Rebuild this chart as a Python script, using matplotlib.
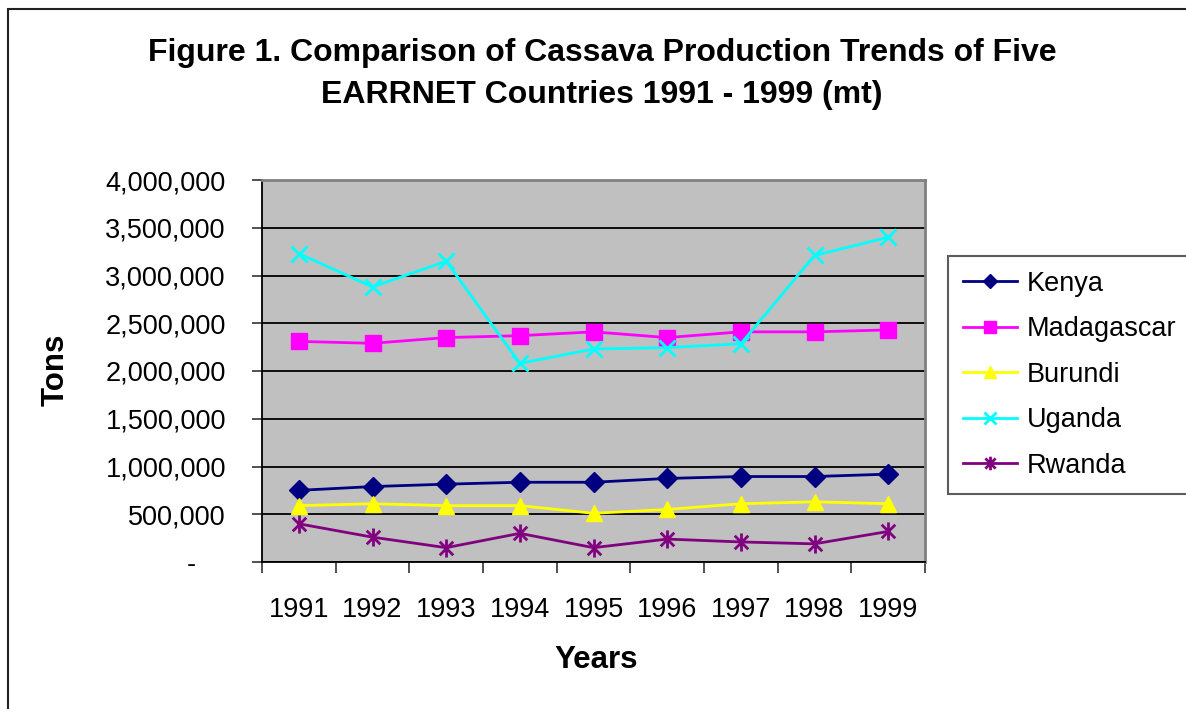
import matplotlib
matplotlib.use("Agg")
import matplotlib.pyplot as plt
from matplotlib.ticker import FuncFormatter, FixedLocator
from matplotlib.patches import Rectangle
from matplotlib.path import Path

years = ["1991", "1992", "1993", "1994", "1995", "1996", "1997", "1998", "1999"]
kenya = [750000, 790000, 815000, 835000, 835000, 875000, 895000, 895000, 920000]
madagascar = [2310000, 2290000, 2350000, 2370000, 2410000, 2350000, 2410000, 2410000, 2430000]
burundi = [590000, 610000, 590000, 590000, 510000, 550000, 610000, 630000, 610000]
uganda = [3230000, 2880000, 3150000, 2080000, 2230000, 2245000, 2285000, 3210000, 3400000]
rwanda = [400000, 260000, 150000, 300000, 150000, 240000, 210000, 190000, 320000]

star = Path([(0, -1), (0, 1), (-0.75, -0.75), (0.75, 0.75), (-0.75, 0.75), (0.75, -0.75)],
            [Path.MOVETO, Path.LINETO, Path.MOVETO, Path.LINETO, Path.MOVETO, Path.LINETO])

series = [
    ("Kenya", kenya, "#000080", "D", 10),
    ("Madagascar", madagascar, "#FF00FF", "s", 11),
    ("Burundi", burundi, "#FFFF00", "^", 12),
    ("Uganda", uganda, "#00FFFF", "x", 11),
    ("Rwanda", rwanda, "#800080", star, 13),
]

plt.rcParams['font.family'] = ['Liberation Sans', 'DejaVu Sans']

W, H = 1186, 709
fig = plt.figure(figsize=(W / 100, H / 100), dpi=100)
fig.patch.set_facecolor("white")

# outer chart border
fig.patches.append(Rectangle((8 / W, -0.1), 1.2, (H - 9) / H + 0.1, transform=fig.transFigure,
                             fill=False, edgecolor="#222222", linewidth=1.5))

ax = fig.add_axes([262 / W, 1 - 562 / H, (925 - 262) / W, (562 - 180) / H])
ax.set_facecolor("#C0C0C0")

x = list(range(len(years)))
for name, vals, color, marker, ms in series:
    mew = 2 if name in ("Uganda", "Rwanda") else 1
    ax.plot(x, vals, color=color, marker=marker, markersize=ms, linewidth=2,
            markeredgewidth=mew, label=name, zorder=3)

ax.set_xlim(-0.5, len(years) - 0.5)
ax.set_ylim(0, 4000000)
ax.set_yticks(range(0, 4000001, 500000))
ax.yaxis.set_major_formatter(FuncFormatter(lambda v, p: "-    " if v == 0 else f"{v:,.0f}"))
ax.yaxis.grid(True, color="black", linewidth=1.3)
ax.set_axisbelow(True)

ax.set_xticks(x)
ax.set_xticklabels(years)
ax.xaxis.set_minor_locator(FixedLocator([i - 0.5 for i in range(len(years) + 1)]))
ax.tick_params(axis="x", which="major", length=0, pad=25, labelsize=19.5)
ax.tick_params(axis="x", which="minor", length=8, width=1.2, direction="out", color="#333333")
ax.tick_params(axis="y", length=7, width=1.2, pad=19, labelsize=19.5, color="#333333")

for s in ("top", "right"):
    ax.spines[s].set_color("#808080")
    ax.spines[s].set_linewidth(2)
for s in ("left", "bottom"):
    ax.spines[s].set_color("black")
    ax.spines[s].set_linewidth(1.3)

fig.text(602 / W, 1 - 74 / H,
         "Figure 1. Comparison of Cassava Production Trends of Five\nEARRNET Countries 1991 - 1999 (mt)",
         ha="center", va="center", fontsize=23, fontweight="bold", linespacing=1.5)
fig.text(56 / W, 1 - 370 / H, "Tons", rotation=90, ha="center", va="center",
         fontsize=22.5, fontweight="bold")
fig.text(596 / W, 1 - 660 / H, "Years", ha="center", va="center",
         fontsize=22.5, fontweight="bold")

leg = ax.legend(loc="upper left", bbox_to_anchor=(948 / W, 1 - 256 / H),
                bbox_transform=fig.transFigure, fontsize=19.5, frameon=True,
                fancybox=False, edgecolor="#333333", handlelength=2.0,
                handletextpad=0.35, labelspacing=0.72, borderpad=0.55,
                borderaxespad=0, markerscale=0.75)
leg.get_frame().set_linewidth(1.5)

fig.savefig("out.png", dpi=100)
